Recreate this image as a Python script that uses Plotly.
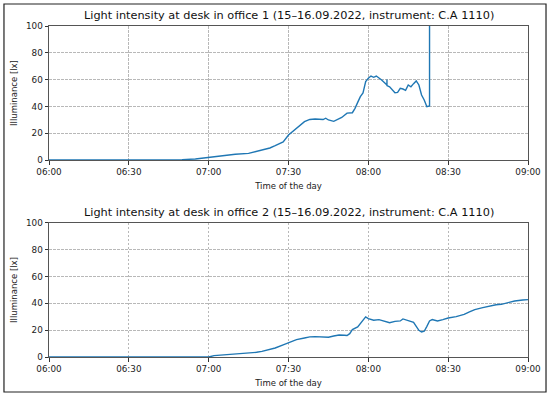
import plotly.graph_objects as go
from datetime import datetime

# Office 1 readings (time of day, illuminance in lx)
times1 = ["06:00", "06:30", "06:45", "06:50", "06:55", "07:00", "07:05", "07:10", "07:15", "07:18",
          "07:20", "07:23", "07:25", "07:28", "07:30", "07:33", "07:36", "07:38", "07:40", "07:43",
          "07:44", "07:45", "07:47", "07:50", "07:52", "07:54", "07:55", "07:56", "07:57", "07:58",
          "07:59", "08:00", "08:01", "08:02", "08:03", "08:05", "08:07", "08:07", "08:07", "08:08",
          "08:10", "08:11", "08:12", "08:13", "08:14", "08:15", "08:16", "08:17", "08:18", "08:19",
          "08:20", "08:21", "08:22", "08:23", "08:23"]
lux1 = [0, 0, 0.1, 0.3, 0.8, 2, 3.2, 4.3, 5, 6.3,
        7.5, 9, 10.7, 13.5, 18.7, 23.6, 28.6, 30.3, 30.6, 30.2,
        31.2, 29.9, 28.9, 31.8, 35, 35.3, 38.6, 43, 47.3, 50,
        58.5, 61, 62.7, 61.7, 62.7, 59.7, 56, 60, 55.5, 54.7,
        50.2, 50.5, 53.5, 53, 52, 56, 54.7, 57, 59, 56,
        48.5, 44.8, 39.8, 40.3, 300]

# Office 2 readings
times2 = ["06:00", "06:30", "07:00", "07:02", "07:05", "07:10", "07:15", "07:18", "07:20", "07:23",
          "07:25", "07:28", "07:30", "07:33", "07:36", "07:38", "07:40", "07:43", "07:45", "07:47",
          "07:49", "07:51", "07:52", "07:53", "07:54", "07:56", "07:58", "07:59", "08:00", "08:02",
          "08:04", "08:06", "08:08", "08:10", "08:12", "08:13", "08:15", "08:17", "08:18", "08:19",
          "08:20", "08:21", "08:22", "08:23", "08:24", "08:26", "08:28", "08:30", "08:33", "08:36",
          "08:38", "08:40", "08:43", "08:45", "08:48", "08:50", "08:53", "08:55", "08:58", "09:00"]
lux2 = [0, 0, 0, 1, 1.5, 2, 2.7, 3.5, 4.2, 5.7,
        6.7, 9, 10.7, 13, 14.2, 15, 15.2, 15, 14.7, 15.7,
        16.4, 16.2, 16, 17.4, 20.4, 22.4, 27.4, 29.9, 28.6, 27.4,
        27.9, 26.9, 25.6, 26.6, 26.9, 28.4, 26.9, 25.9, 22.9, 19.9,
        18.7, 19.2, 22.9, 26.9, 27.9, 26.9, 27.9, 29.1, 30.1, 31.8,
        33.6, 35.3, 36.8, 37.8, 39, 39.3, 41, 41.8, 42.5, 42.8]

titles = ["Light intensity at desk in office 1 (15–16.09.2022, instrument: C.A 1110)",
          "Light intensity at desk in office 2 (15–16.09.2022, instrument: C.A 1110)"]
tick_vals = ["06:00", "06:30", "07:00", "07:30", "08:00", "08:30", "09:00"]
y_ticks = [0, 20, 40, 60, 80, 100]


def to_dt(lst):
    return [datetime.strptime("2022-09-15 " + t, "%Y-%m-%d %H:%M") for t in lst]


FONT = "DejaVu Sans"
fig = go.Figure()
fig.add_trace(go.Scatter(x=to_dt(times1), y=lux1, mode="lines", xaxis="x", yaxis="y",
                         line=dict(color="#1f77b4", width=1.4), showlegend=False))
fig.add_trace(go.Scatter(x=to_dt(times2), y=lux2, mode="lines", xaxis="x2", yaxis="y2",
                         line=dict(color="#1f77b4", width=1.4), showlegend=False))

GRID_DASH = "2.5px,1.5px"
xcommon = dict(range=[to_dt(["06:00"])[0], to_dt(["09:00"])[0]],
               tickvals=to_dt(tick_vals), ticktext=tick_vals,
               showgrid=True, gridcolor="#b8b8b8", griddash=GRID_DASH, gridwidth=0.8,
               showline=True, linecolor="#555555", linewidth=1, mirror=True,
               ticks="outside", ticklen=3.5, tickcolor="#333333",
               tickfont=dict(family=FONT, size=8.8, color="#222222"),
               title=dict(text="Time of the day", font=dict(family=FONT, size=8.5, color="#222222"),
                          standoff=6),
               zeroline=False, automargin=False)
ycommon = dict(range=[0, 100], tickvals=y_ticks,
               showgrid=True, gridcolor="#b8b8b8", griddash=GRID_DASH, gridwidth=0.8,
               showline=True, linecolor="#555555", linewidth=1, mirror=True,
               ticks="outside", ticklen=3.5, tickcolor="#333333",
               tickfont=dict(family=FONT, size=8.8, color="#222222"),
               title=dict(text="Illuminance [lx]", font=dict(family=FONT, size=8.5, color="#222222"),
                          standoff=6),
               zeroline=False, automargin=False)

fig.update_layout(
    width=550, height=398,
    margin=dict(l=49, r=22, t=26, b=41),
    paper_bgcolor="white", plot_bgcolor="white",
    xaxis=dict(domain=[0, 1], anchor="y", **xcommon),
    yaxis=dict(domain=[0.595, 1], anchor="x", **ycommon),
    xaxis2=dict(domain=[0, 1], anchor="y2", **xcommon),
    yaxis2=dict(domain=[0, 0.405], anchor="x2", **ycommon),
    annotations=[
        dict(text=titles[0], xref="paper", yref="paper", x=0.5, y=1.0, yshift=2,
             xanchor="center", yanchor="bottom", showarrow=False,
             font=dict(family=FONT, size=11.3, color="#111111")),
        dict(text=titles[1], xref="paper", yref="paper", x=0.5, y=0.405, yshift=2,
             xanchor="center", yanchor="bottom", showarrow=False,
             font=dict(family=FONT, size=11.3, color="#111111")),
    ],
    shapes=[dict(type="rect", xref="paper", yref="paper",
                 x0=-0.094, x1=1.0376, y0=-0.1057, y1=1.0665,
                 line=dict(color="#222222", width=1.2))],
)

fig.write_html("out.html", config={"displayModeBar": False},
               post_script="document.body.style.margin='0';document.body.style.overflow='hidden';")
